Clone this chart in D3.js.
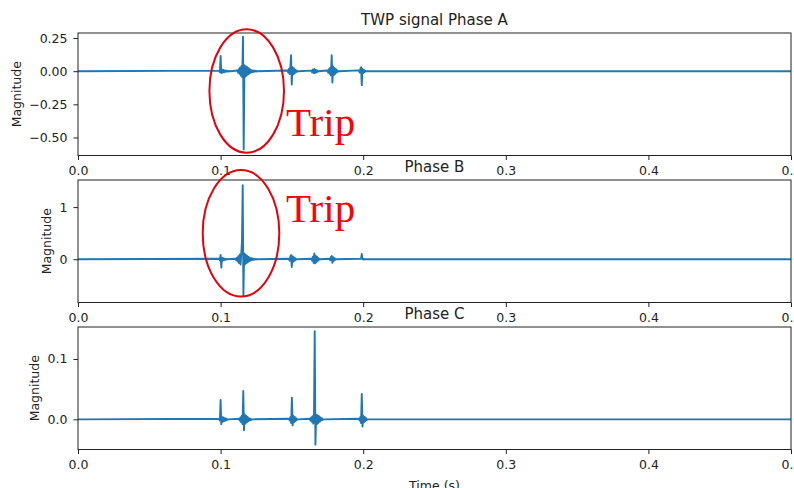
<!DOCTYPE html>
<html>
<head>
<meta charset="utf-8">
<script src="https://cdn.jsdelivr.net/npm/d3@7"></script>
<style>
  body { margin: 0; background: #fff; }
  svg { display: block; }
</style>
</head>
<body>
<div class="canvas"></div>
<script>
// data
const sampleStep = 0.0005;   // seconds between samples inside a burst
const timeRange = [0, 0.5];
const xTicks = [0, 0.1, 0.2, 0.3, 0.4, 0.5];

const titles = ['TWP signal Phase A', 'Phase B', 'Phase C'];

// each burst: t = spike time, lead = samples before t, v = magnitudes
const phaseA = [
  {t: 0.1000, lead: 2, v: [0.004, -0.006, 0.114, -0.015, 0.012, -0.01, 0.009, -0.008, 0.006, -0.005, 0.004, -0.003, 0.003, -0.002, 0.002, -0.001, 0]},
  {t: 0.1157, lead: 8, v: [0.005, -0.01, 0.015, -0.02, 0.028, -0.033, 0.04, -0.045, 0.26, -0.59, 0.045, -0.042, 0.038, -0.034, 0.03, -0.026, 0.022, -0.018, 0.014, -0.011, 0.008, -0.007, 0.006, -0.005, 0.004, -0.003, 0.003, -0.002, 0]},
  {t: 0.1494, lead: 5, v: [0.005, -0.01, 0.016, -0.022, 0.028, 0.12, -0.10, 0.03, -0.026, 0.022, -0.017, 0.012, -0.008, 0.005, -0.003, 0]},
  {t: 0.1657, lead: 4, v: [0.004, -0.008, 0.012, -0.015, 0.016, -0.015, 0.012, -0.009, 0.006, -0.004, 0]},
  {t: 0.1779, lead: 6, v: [0.005, -0.01, 0.015, -0.02, 0.026, -0.032, 0.12, -0.085, 0.035, -0.03, 0.025, -0.02, 0.015, -0.01, 0.006, -0.003, 0]},
  {t: 0.1985, lead: 3, v: [0.006, -0.01, 0.015, 0.03, -0.105, 0.018, -0.014, 0.01, -0.007, 0.004, 0]}
];
const phaseB = [
  {t: 0.1000, lead: 2, v: [0.01, -0.02, 0.08, -0.16, 0.03, -0.025, 0.02, -0.015, 0.01, -0.008, 0.005, 0]},
  {t: 0.1155, lead: 10, v: [0.01, -0.02, 0.03, -0.045, 0.06, -0.075, 0.09, -0.1, 0.11, 0.35, 1.42, -0.71, 0.11, -0.1, 0.09, -0.08, 0.07, -0.06, 0.05, -0.04, 0.03, -0.025, 0.02, -0.015, 0.012, -0.01, 0.008, -0.006, 0.005, -0.004, 0.003, -0.002, 0]},
  {t: 0.1494, lead: 3, v: [0.01, -0.03, 0.05, 0.08, -0.15, 0.06, -0.05, 0.04, -0.03, 0.02, -0.01, 0]},
  {t: 0.1657, lead: 4, v: [0.01, -0.03, 0.05, -0.07, 0.11, -0.08, 0.07, -0.06, 0.045, -0.03, 0.02, -0.01, 0]},
  {t: 0.1779, lead: 3, v: [0.01, -0.02, 0.04, 0.06, -0.07, 0.04, -0.03, 0.02, -0.01, 0]},
  {t: 0.1990, lead: 1, v: [0.01, 0.1, 0.0, 0.01, -0.005, 0]}
];
const phaseC = [
  {t: 0.1000, lead: 2, v: [0.001, -0.002, 0.032, -0.008, 0.004, -0.004, 0.003, -0.003, 0.002, -0.002, 0.001, -0.001, 0]},
  {t: 0.1159, lead: 6, v: [0.001, -0.002, 0.003, -0.005, 0.006, -0.008, 0.047, -0.018, 0.008, -0.007, 0.006, -0.005, 0.004, -0.003, 0.002, -0.002, 0.001, -0.001, 0]},
  {t: 0.1500, lead: 4, v: [0.001, -0.002, 0.004, -0.006, 0.036, -0.01, 0.006, -0.005, 0.004, -0.003, 0.002, -0.001, 0]},
  {t: 0.1660, lead: 7, v: [0.001, -0.002, 0.003, -0.004, 0.005, -0.007, 0.008, 0.146, -0.042, 0.008, -0.008, 0.007, -0.006, 0.005, -0.004, 0.003, -0.002, 0.002, -0.001, 0]},
  {t: 0.1990, lead: 4, v: [0.001, -0.002, 0.004, -0.006, 0.042, -0.012, 0.006, -0.005, 0.004, -0.003, 0.002, -0.001, 0]}
];

const yDomains = [[-0.636, 0.288], [-0.83, 1.52], [-0.05, 0.153]];
const yTicksA = [-0.5, -0.25, 0, 0.25];
const yTicksB = [0, 1];
const yTicksC = [0, 0.1];
const yFormats = ['.2f', '.0f', '.1f'];

//1. dimensions
const width = 794, height = 488;
const left = 78, right = 791;
const panelTops = [33, 180, 327];
const panelH = 122.5;
const font = '"DejaVu Sans", sans-serif';

const svg = d3.select('.canvas').append('svg')
  .attr('width', width).attr('height', height);

const x = d3.scaleLinear().domain(timeRange).range([left, right]);

const toSeries = (events) => {
  const pts = [[timeRange[0], 0]];
  events.forEach(e => e.v.forEach((v, i) => pts.push([e.t + (i - e.lead) * sampleStep, v])));
  pts.push([timeRange[1], 0]);
  return pts;
};

const panels = [
  {events: phaseA, ticks: yTicksA},
  {events: phaseB, ticks: yTicksB},
  {events: phaseC, ticks: yTicksC}
];

const addText = (g) => g.append('text').style('font-family', font).style('fill', '#222');

panels.forEach((p, k) => {
  const top = panelTops[k], bottom = top + panelH;
  const y = d3.scaleLinear().domain(yDomains[k]).range([bottom, top]);

  svg.append('clipPath').attr('id', 'clip' + k)
    .append('rect').attr('x', left).attr('y', top).attr('width', right - left).attr('height', panelH);

  svg.append('path')
    .datum(toSeries(p.events))
    .attr('clip-path', `url(#clip${k})`)
    .attr('fill', 'none')
    .attr('stroke', '#1f77b4')
    .attr('stroke-width', 1.9)
    .attr('stroke-linejoin', 'round')
    .attr('d', d3.line().x(d => x(d[0])).y(d => y(d[1])));

  // frame
  svg.append('rect')
    .attr('x', left).attr('y', top).attr('width', right - left).attr('height', panelH)
    .attr('fill', 'none').attr('stroke', '#222').attr('stroke-width', 1);

  const xg = svg.append('g')
    .attr('transform', `translate(0,${bottom})`)
    .call(d3.axisBottom(x).tickValues(xTicks).tickFormat(d3.format('.1f'))
      .tickSize(4.5).tickSizeOuter(0).tickPadding(6.5));

  const yg = svg.append('g')
    .attr('transform', `translate(${left},0)`)
    .call(d3.axisLeft(y).tickValues(p.ticks).tickFormat(d3.format(yFormats[k]))
      .tickSize(4.5).tickSizeOuter(0).tickPadding(6));

  [xg, yg].forEach(g => {
    g.select('.domain').remove();
    g.selectAll('line').attr('stroke', '#222');
    g.selectAll('text').style('font-size', '12.5px').style('font-family', font).style('fill', '#222');
  });

  let minX = Infinity;
  yg.selectAll('text').each(function () { minX = Math.min(minX, this.getBBox().x + left); });

  addText(svg)
    .attr('transform', `translate(${minX - 8.5},${(top + bottom) / 2}) rotate(-90)`)
    .attr('text-anchor', 'middle')
    .style('font-size', '12.5px')
    .text('Magnitude');

  addText(svg)
    .attr('x', (left + right) / 2).attr('y', top - 8.5)
    .attr('text-anchor', 'middle')
    .style('font-size', '15px')
    .text(titles[k]);
});

addText(svg)
  .attr('x', (left + right) / 2).attr('y', 490)
  .attr('text-anchor', 'middle')
  .style('font-size', '12.5px')
  .text('Time (s)');

// red annotations
const notes = [
  {cx: 246.7, cy: 91, rx: 37.3, ry: 61.7, tx: 286, ty: 136},
  {cx: 241, cy: 233.3, rx: 38.3, ry: 63.3, tx: 286, ty: 222}
];
notes.forEach(n => {
  svg.append('ellipse')
    .attr('cx', n.cx).attr('cy', n.cy).attr('rx', n.rx).attr('ry', n.ry)
    .attr('fill', 'none').attr('stroke', '#e8000b').attr('stroke-width', 2);
  svg.append('text')
    .attr('x', n.tx).attr('y', n.ty)
    .style('font-family', '"Liberation Serif", "Times New Roman", serif')
    .style('font-size', '41px')
    .style('fill', '#f00')
    .text('Trip');
});
</script>
</body>
</html>
